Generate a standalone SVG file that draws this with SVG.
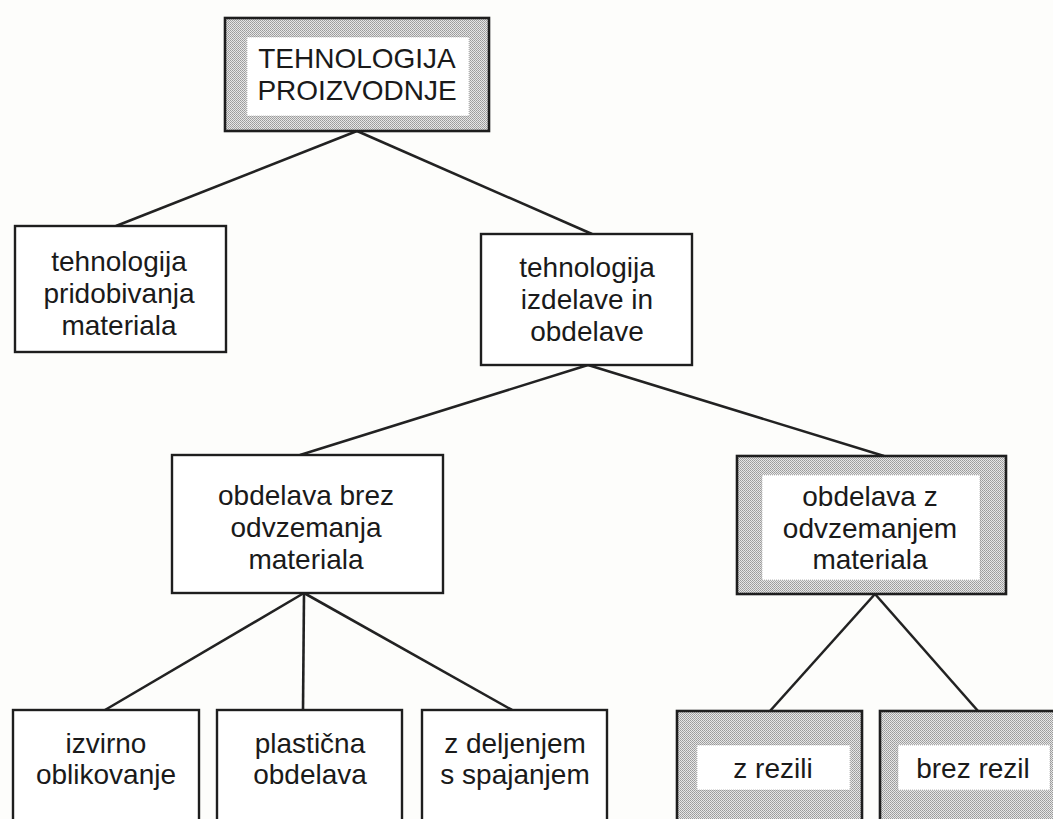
<svg xmlns="http://www.w3.org/2000/svg" width="1053" height="819" viewBox="0 0 1053 819">
<defs>
<pattern id="dots" width="2" height="2" patternUnits="userSpaceOnUse">
<rect width="2" height="2" fill="#e6e6e6"/>
<rect width="1" height="1" fill="#9a9a9a"/>
<rect x="1" y="1" width="1" height="1" fill="#a6a6a6"/>
</pattern>
</defs>
<style>
.box{fill:#fff;stroke:#1e1e1e;stroke-width:2.4}
.sh{fill:url(#dots);stroke:#1e1e1e;stroke-width:2.6}
.in{fill:#fff;stroke:#bdbdbd;stroke-width:1;stroke-dasharray:1 1}
.t{font-family:"Liberation Sans",Arial,sans-serif;font-size:28px;fill:#1a1a1a;text-anchor:middle}
.big{font-size:28px}
.ln{stroke:#222;stroke-width:2.6;fill:none}
</style>
<rect width="1053" height="819" fill="#fdfdfb"/>
<g id="connectors">
<line class="ln" x1="357" y1="131" x2="116" y2="226"/>
<line class="ln" x1="357" y1="131" x2="592" y2="234"/>
<line class="ln" x1="588" y1="365" x2="300" y2="455"/>
<line class="ln" x1="588" y1="365" x2="884" y2="456"/>
<line class="ln" x1="304" y1="593" x2="105" y2="710"/>
<line class="ln" x1="304" y1="593" x2="303" y2="710"/>
<line class="ln" x1="304" y1="593" x2="512" y2="710"/>
<line class="ln" x1="875" y1="594" x2="770" y2="711"/>
<line class="ln" x1="875" y1="594" x2="978" y2="711"/>
</g>
<g id="n-root">
<rect class="sh" x="225" y="18" width="264" height="113"/>
<rect class="in" x="247" y="37" width="222" height="79"/>
<text class="t big" x="357" y="68">TEHNOLOGIJA</text>
<text class="t big" x="357" y="100">PROIZVODNJE</text>
</g>
<g id="n-pridobivanje">
<rect class="box" x="15" y="226" width="211" height="126"/>
<text class="t" x="119" y="271">tehnologija</text>
<text class="t" x="119" y="303">pridobivanja</text>
<text class="t" x="119" y="335">materiala</text>
</g>
<g id="n-izdelava">
<rect class="box" x="481" y="234" width="211" height="131"/>
<text class="t" x="587" y="277">tehnologija</text>
<text class="t" x="587" y="309">izdelave in</text>
<text class="t" x="587" y="341">obdelave</text>
</g>
<g id="n-brez">
<rect class="box" x="172" y="455" width="271" height="138"/>
<text class="t" x="306" y="505">obdelava brez</text>
<text class="t" x="306" y="537">odvzemanja</text>
<text class="t" x="306" y="569">materiala</text>
</g>
<g id="n-z">
<rect class="sh" x="737" y="456" width="269" height="138"/>
<rect class="in" x="762" y="475" width="218" height="105"/>
<text class="t" x="870" y="506">obdelava z</text>
<text class="t" x="870" y="538">odvzemanjem</text>
<text class="t" x="870" y="569">materiala</text>
</g>
<g id="n-izvirno">
<rect class="box" x="13" y="710" width="186" height="122"/>
<text class="t" x="106" y="753">izvirno</text>
<text class="t" x="106" y="784">oblikovanje</text>
</g>
<g id="n-plasticna">
<rect class="box" x="217" y="710" width="185" height="122"/>
<text class="t" x="310" y="753">plastična</text>
<text class="t" x="310" y="784">obdelava</text>
</g>
<g id="n-deljenje">
<rect class="box" x="422" y="710" width="185" height="122"/>
<text class="t" x="515" y="753">z deljenjem</text>
<text class="t" x="515" y="784">s spajanjem</text>
</g>
<g id="n-rezili">
<rect class="sh" x="677" y="711" width="185" height="122"/>
<rect class="in" x="697" y="745" width="153" height="45"/>
<text class="t" x="773" y="778">z rezili</text>
</g>
<g id="n-brezrezil">
<rect class="sh" x="880" y="711" width="185" height="122"/>
<rect class="in" x="898" y="745" width="152" height="45"/>
<text class="t" x="973" y="778">brez rezil</text>
</g>
</svg>
